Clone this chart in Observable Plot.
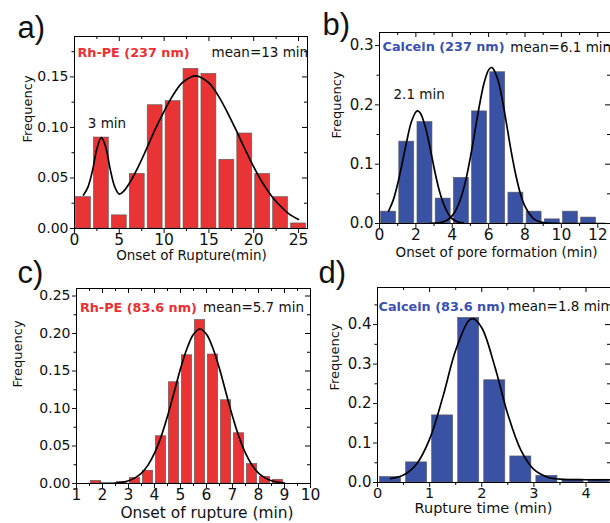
<!DOCTYPE html>
<html><head><meta charset="utf-8">
<script src="https://cdn.jsdelivr.net/npm/d3@7"></script>
<script src="https://cdn.jsdelivr.net/npm/@observablehq/plot@0.6"></script>
<style>
html,body{margin:0;padding:0;background:#fff;}
#fig{position:relative;width:610px;height:523px;overflow:hidden;background:#fff;}
#fig svg{position:absolute;}
</style></head><body><div id="fig"></div>
<script>
// ---------- Panel a: Rh-PE (237 nm) ----------
const aBinStart = [0, 2, 4, 6, 8, 10, 12, 14, 16, 18, 20, 22, 24];
const aFreq = [0.031, 0.090, 0.013, 0.054, 0.122, 0.126, 0.158, 0.153, 0.068, 0.094, 0.054, 0.031, 0.005];
const aFitX = [1, 1.5, 2, 2.5, 3, 3.5, 4, 4.5, 5, 5.5, 6, 7, 8, 9, 10, 11, 12, 13, 13.5, 14, 15, 16, 17, 18, 19, 20, 21, 22, 23, 24, 25];
const aFitY = [0.033, 0.041, 0.057, 0.079, 0.090, 0.080, 0.058, 0.041, 0.034, 0.037, 0.043, 0.059, 0.078, 0.098, 0.116, 0.132, 0.144, 0.150, 0.151, 0.150, 0.144, 0.132, 0.116, 0.098, 0.079, 0.061, 0.045, 0.032, 0.022, 0.014, 0.009];
const aXTicks = [0, 5, 10, 15, 20, 25];
const aXMinor = [2.5, 7.5, 12.5, 17.5, 22.5];
const aYTicks = [0, 0.05, 0.10, 0.15];
const aYMinor = [0.025, 0.075, 0.125, 0.175];

// ---------- Panel b: Calcein (237 nm) ----------
const bBinStart = [0, 1, 2, 3, 4, 5, 6, 7, 8, 9, 10, 11];
const bFreq = [0.020, 0.138, 0.171, 0.042, 0.077, 0.189, 0.255, 0.052, 0.020, 0.007, 0.020, 0.010];
const bFit1X = [0.5, 0.75, 1, 1.25, 1.5, 1.75, 2, 2.1, 2.25, 2.5, 2.75, 3, 3.25, 3.5, 3.75, 4, 4.25, 4.6];
const bFit1Y = [0.021, 0.039, 0.067, 0.102, 0.139, 0.171, 0.188, 0.190, 0.186, 0.165, 0.132, 0.094, 0.060, 0.035, 0.018, 0.008, 0.0035, 0.001];
const bFit2X = [2.8, 3.25, 3.5, 3.75, 4, 4.25, 4.5, 4.75, 5, 5.25, 5.5, 5.75, 6, 6.15, 6.25, 6.5, 6.75, 7, 7.25, 7.5, 7.75, 8, 8.5, 9, 10, 11, 12.4];
const bFit2Y = [0.0002, 0.0012, 0.0028, 0.0064, 0.0133, 0.0256, 0.0454, 0.074, 0.112, 0.156, 0.200, 0.237, 0.259, 0.263, 0.261, 0.243, 0.209, 0.165, 0.120, 0.081, 0.050, 0.029, 0.0075, 0.0014, 0, 0, 0];
const bXTicks = [0, 2, 4, 6, 8, 10, 12];
const bXMinor = [1, 3, 5, 7, 9, 11];
const bYTicks = [0, 0.1, 0.2, 0.3];
const bYMinor = [0.05, 0.15, 0.25];

// ---------- Panel c: Rh-PE (83.6 nm) ----------
const cBinStart = [1.5, 2.5, 3.0, 3.5, 4.0, 4.5, 5.0, 5.5, 6.0, 6.5, 7.0, 7.5, 8.0, 8.5];
const cFreq = [0.0035, 0.002, 0.0075, 0.017, 0.063, 0.135, 0.171, 0.218, 0.172, 0.111, 0.067, 0.026, 0.009, 0.005];
const cFitX = [1.9, 2.5, 3, 3.25, 3.5, 3.75, 4, 4.25, 4.5, 4.75, 5, 5.25, 5.5, 5.75, 6, 6.25, 6.5, 6.75, 7, 7.25, 7.5, 7.75, 8, 8.25, 8.5, 9];
const cFitY = [0.0001, 0.0007, 0.0037, 0.0075, 0.0139, 0.0245, 0.0404, 0.0622, 0.0897, 0.121, 0.153, 0.180, 0.199, 0.206, 0.199, 0.180, 0.153, 0.121, 0.0897, 0.0622, 0.0404, 0.0245, 0.0139, 0.0075, 0.0037, 0.0007];
const cXTicks = [1, 2, 3, 4, 5, 6, 7, 8, 9, 10];
const cXMinor = [1.5, 2.5, 3.5, 4.5, 5.5, 6.5, 7.5, 8.5, 9.5];
const cYTicks = [0, 0.05, 0.10, 0.15, 0.20, 0.25];
const cYMinor = [0.025, 0.075, 0.125, 0.175, 0.225];

// ---------- Panel d: Calcein (83.6 nm) ----------
const dBinStart = [0, 0.5, 1.0, 1.5, 2.0, 2.5, 3.0, 3.5, 4.0];
const dFreq = [0.014, 0.051, 0.170, 0.417, 0.259, 0.066, 0.017, 0.007, 0.007];
const dFitX = [0.25, 0.5, 0.75, 1.0, 1.25, 1.5, 1.75, 1.83, 2.0, 2.25, 2.5, 2.75, 3.0, 3.25, 3.5, 4.0, 4.5];
const dFitY = [0.0098, 0.019, 0.047, 0.110, 0.215, 0.335, 0.410, 0.415, 0.392, 0.294, 0.173, 0.082, 0.033, 0.014, 0.0085, 0.007, 0.007];
const dXTicks = [0, 1, 2, 3, 4];
const dXMinor = [0.5, 1.5, 2.5, 3.5];
const dYTicks = [0, 0.1, 0.2, 0.3, 0.4];
const dYMinor = [0.05, 0.15, 0.25, 0.35, 0.45];

const RED = "#e83434", RED_TXT = "#ec2f33";
const BLUE = "#3a52a3", BLUE_TXT = "#3b51b0";
const FONT = "DejaVu Sans";

function panel(p) {
  const innerW = p.width - p.ml - p.mr, innerH = p.height - p.mt - p.mb;
  const inX = v => v >= p.xDomain[0] && v <= p.xDomain[1];
  const inY = v => v >= p.yDomain[0] && v <= p.yDomain[1];
  const bars = p.binStart.map((s, i) => ({x1: s, x2: s + p.binWidth, y: p.freq[i]}));
  const fits = p.fits.map(f => f[0].map((x, i) => ({x, y: f[1][i]})));
  const xMaj = p.xMajor.filter(inX), xMin = p.xMinor.filter(inX);
  const yMaj = p.yMajor.filter(inY), yMin = p.yMinor.filter(inY);
  const marks = [
    Plot.rectY(bars, {x1: "x1", x2: "x2", y: "y", fill: p.fill, stroke: "#5a5a5a", strokeWidth: 0.6,
      insetLeft: p.inset, insetRight: p.inset, clip: true}),
    ...fits.map(d => Plot.line(d, {x: "x", y: "y", curve: "catmull-rom", stroke: "#000", strokeWidth: 1.7, clip: true})),
    Plot.frame({stroke: "#000", strokeWidth: 1}),
    Plot.axisX({ticks: xMaj, tickSize: 5, tickPadding: 0, fontSize: p.xFont, tickFormat: d => String(d), label: null}),
    Plot.axisY({ticks: yMaj, tickSize: 4, tickPadding: 2, fontSize: p.yFont, tickFormat: d3.format(p.yFmt), label: null}),
    // minor outward ticks (bottom, left)
    Plot.ruleX(xMin, {insetTop: innerH, insetBottom: -3, stroke: "#000"}),
    Plot.ruleY(yMin, {insetRight: innerW, insetLeft: -2.5, stroke: "#000"}),
    // mirror inward ticks (top, right)
    Plot.ruleX(xMaj, {insetBottom: innerH - 5, stroke: "#000"}),
    Plot.ruleX(xMin, {insetBottom: innerH - 3, stroke: "#000"}),
    Plot.ruleY(yMaj, {insetLeft: innerW - 5, stroke: "#000"}),
    Plot.ruleY(yMin, {insetLeft: innerW - 3, stroke: "#000"}),
    // panel tag
    Plot.text([p.tag], {frameAnchor: "top-left", textAnchor: "start", lineAnchor: "bottom",
      dx: p.tagDx, dy: p.tagDy, fontSize: 31, fontFamily: "Liberation Sans", fill: "#111"}),
    // y title
    Plot.text(["Frequency"], {frameAnchor: "left", rotate: -90, dx: p.yTitleDx, dy: p.yTitleDy,
      fontSize: 13, fill: "#111"}),
    // x title
    Plot.text([p.xTitle], {frameAnchor: "bottom", dx: p.xTitleDx, dy: p.xTitleDy,
      fontSize: p.xTitleFont, fill: "#111"}),
    // annotations: coloured bold label, then plain notes
    Plot.text([p.label], {x: "x", y: "y", text: "t", textAnchor: "start", fill: p.labelColor,
      fontWeight: "bold", fontSize: 12.8}),
    Plot.text(p.notes, {x: "x", y: "y", text: "t", textAnchor: "start", fill: "#111", fontSize: 13.5})
  ];
  const svg = Plot.plot({
    width: p.width, height: p.height,
    marginLeft: p.ml, marginRight: p.mr, marginTop: p.mt, marginBottom: p.mb,
    x: {domain: p.xDomain, label: null},
    y: {domain: p.yDomain, label: null},
    style: {background: "transparent", fontFamily: FONT, color: "#111", overflow: "visible"},
    marks
  });
  svg.style.left = p.left + "px";
  svg.style.top = p.top + "px";
  svg.style.overflow = "visible";
  document.getElementById("fig").appendChild(svg);
}

// a
panel({
  left: 0, top: 0, width: 310, height: 262, ml: 74, mr: 3, mt: 36, mb: 34,
  xDomain: [0, 26], yDomain: [0, 0.19],
  binStart: aBinStart, freq: aFreq, binWidth: 2, fill: RED, inset: 1.5,
  fits: [[aFitX, aFitY]],
  xMajor: aXTicks, xMinor: aXMinor, yMajor: aYTicks, yMinor: aYMinor, yFmt: ".2f", yFont: 14, xFont: 15.5,
  tag: "a)", tagDx: -57, tagDy: 1,
  yTitleDx: -47, yTitleDy: 10,
  xTitle: "Onset of Rupture(min)", xTitleDx: 0.5, xTitleDy: 31.5, xTitleFont: 13.5,
  label: {t: "Rh-PE (237 nm)", x: 0.33, y: 0.174}, labelColor: RED_TXT,
  notes: [
    {t: "mean=13 min", x: 15.3, y: 0.174},
    {t: "3 min", x: 1.48, y: 0.104}
  ]
});

// b
panel({
  left: 300, top: 0, width: 310, height: 262, ml: 79, mr: 0, mt: 32, mb: 39,
  xDomain: [0, 12.7], yDomain: [0, 0.322],
  binStart: bBinStart, freq: bFreq, binWidth: 1, fill: BLUE, inset: 1.6,
  fits: [[bFit1X, bFit1Y], [bFit2X, bFit2Y]],
  xMajor: bXTicks, xMinor: bXMinor, yMajor: bYTicks, yMinor: bYMinor, yFmt: ".1f", yFont: 15, xFont: 15.5,
  tag: "b)", tagDx: -57, tagDy: 2,
  yTitleDx: -43, yTitleDy: 10.5,
  xTitle: "Onset of pore formation (min)", xTitleDx: 1.5, xTitleDy: 33, xTitleFont: 13.5,
  label: {t: "Calcein (237 nm)", x: 0.17, y: 0.297}, labelColor: BLUE_TXT,
  notes: [
    {t: "mean=6.1 min", x: 7.19, y: 0.297},
    {t: "2.1 min", x: 0.77, y: 0.217}
  ]
});

// c
panel({
  left: 0, top: 262, width: 311, height: 261, ml: 76, mr: 1, mt: 26, mb: 40,
  xDomain: [1, 10], yDomain: [0, 0.26],
  binStart: cBinStart, freq: cFreq, binWidth: 0.5, fill: RED, inset: 1.3,
  fits: [[cFitX, cFitY]],
  xMajor: cXTicks, xMinor: cXMinor, yMajor: cYTicks, yMinor: cYMinor, yFmt: ".2f", yFont: 14, xFont: 15.5,
  tag: "c)", tagDx: -59, tagDy: -6,
  yTitleDx: -58.5, yTitleDy: 1.5,
  xTitle: "Onset of rupture (min)", xTitleDx: 13.5, xTitleDy: 34, xTitleFont: 15.4,
  label: {t: "Rh-PE (83.6 nm)", x: 1.13, y: 0.234}, labelColor: RED_TXT,
  notes: [
    {t: "mean=5.7 min", x: 5.87, y: 0.234}
  ]
});

// d
panel({
  left: 300, top: 262, width: 310, height: 261, ml: 77, mr: 0, mt: 25, mb: 41,
  xDomain: [0, 4.47], yDomain: [0, 0.494],
  binStart: dBinStart, freq: dFreq, binWidth: 0.5, fill: BLUE, inset: 2.5,
  fits: [[dFitX, dFitY]],
  xMajor: dXTicks, xMinor: dXMinor, yMajor: dYTicks, yMinor: dYMinor, yFmt: ".1f", yFont: 15, xFont: 14.5,
  tag: "d)", tagDx: -59, tagDy: -5,
  yTitleDx: -43, yTitleDy: 5.5,
  xTitle: "Rupture time (min)", xTitleDx: -10.5, xTitleDy: 30.5, xTitleFont: 14.5,
  label: {t: "Calcein (83.6 nm)", x: 0.02, y: 0.445}, labelColor: BLUE_TXT,
  notes: [
    {t: "mean=1.8 min", x: 2.51, y: 0.445}
  ]
});
</script></body></html>
